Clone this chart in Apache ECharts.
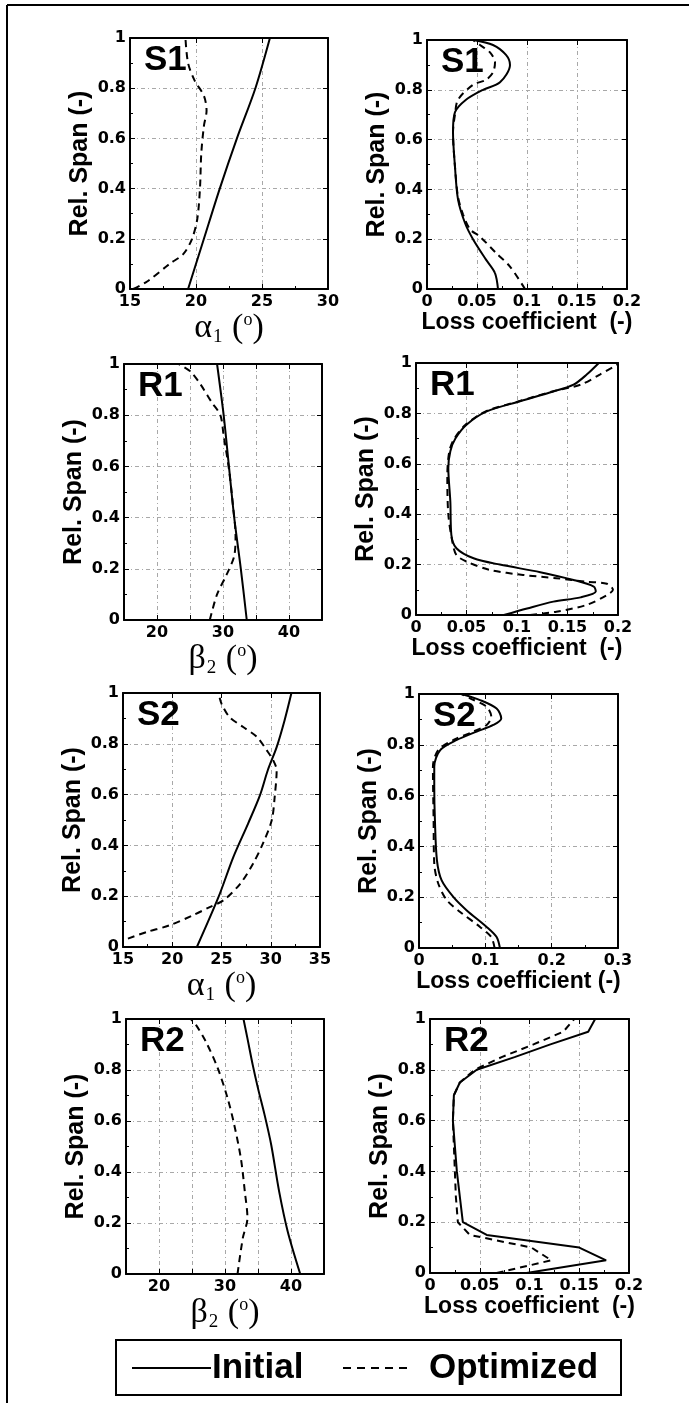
<!DOCTYPE html>
<html>
<head>
<meta charset="utf-8">
<title>Spanwise distributions</title>
<script src="https://cdn.jsdelivr.net/npm/echarts@6/dist/echarts.min.js"></script>
<style>
  html, body { margin: 0; padding: 0; background: #fff; }
  #chart { width: 689px; height: 1403px; }
</style>
</head>
<body>
<div id="chart"></div>
<script>
// every point is [value, relative span]
const s1AlphaInitial = [[19.4, 0], [20.6, 0.2], [21.8, 0.4], [23.1, 0.6], [24.5, 0.8], [25.6, 1]];
const s1AlphaOptimized = [[15.25, 0], [16.3, 0.03], [18.0, 0.1], [19.05, 0.14], [19.7, 0.2], [20.1, 0.28], [20.3, 0.4], [20.4, 0.54], [20.6, 0.65], [20.8, 0.71], [20.6, 0.77], [19.9, 0.83], [19.4, 0.9], [19.2, 1]];

const s1LossInitial = [[0.071, 0], [0.068, 0.064], [0.059, 0.118], [0.046, 0.2], [0.038, 0.265], [0.031, 0.36], [0.028, 0.49], [0.026, 0.63], [0.028, 0.71], [0.039, 0.76], [0.056, 0.8], [0.073, 0.83], [0.083, 0.9], [0.079, 0.94], [0.066, 0.98], [0.046, 1]];
const s1LossOptimized = [[0.098, 0], [0.083, 0.09], [0.069, 0.145], [0.053, 0.21], [0.043, 0.24], [0.036, 0.3], [0.031, 0.37], [0.028, 0.49], [0.026, 0.63], [0.028, 0.7], [0.031, 0.76], [0.046, 0.82], [0.059, 0.84], [0.066, 0.87], [0.068, 0.91], [0.063, 0.95], [0.053, 0.98], [0.046, 1]];

const r1BetaInitial = [[33.6, 0], [32.7, 0.2], [31.7, 0.4], [30.9, 0.6], [30.1, 0.8], [29.1, 1]];
const r1BetaOptimized = [[28.0, 0], [29.1, 0.1], [30.6, 0.18], [31.7, 0.25], [31.9, 0.33], [31.5, 0.45], [30.9, 0.59], [30.1, 0.72], [29.6, 0.8], [28.3, 0.85], [26.6, 0.92], [25.1, 0.97], [23.3, 1]];

const r1LossInitial = [[0.087, 0], [0.110, 0.026], [0.136, 0.053], [0.163, 0.07], [0.178, 0.093], [0.176, 0.113], [0.156, 0.139], [0.123, 0.17], [0.083, 0.2], [0.057, 0.225], [0.040, 0.265], [0.035, 0.318], [0.034, 0.45], [0.032, 0.583], [0.034, 0.65], [0.039, 0.70], [0.050, 0.755], [0.070, 0.808], [0.103, 0.848], [0.136, 0.887], [0.156, 0.914], [0.169, 0.954], [0.181, 1]];
const r1LossOptimized = [[0.113, 0], [0.139, 0.013], [0.169, 0.04], [0.189, 0.079], [0.195, 0.1], [0.189, 0.124], [0.169, 0.132], [0.139, 0.146], [0.106, 0.159], [0.073, 0.179], [0.050, 0.212], [0.040, 0.238], [0.036, 0.291], [0.032, 0.4], [0.031, 0.55], [0.033, 0.65], [0.038, 0.70], [0.049, 0.755], [0.069, 0.808], [0.102, 0.848], [0.135, 0.887], [0.163, 0.914], [0.182, 0.954], [0.2, 0.995]];

const s2AlphaInitial = [[22.5, 0], [24.7, 0.197], [26.2, 0.354], [27.7, 0.486], [28.9, 0.597], [29.7, 0.696], [30.6, 0.787], [31.4, 0.892], [32.1, 1]];
const s2AlphaOptimized = [[15.5, 0.033], [17.4, 0.059], [19.7, 0.085], [22.1, 0.125], [23.8, 0.157], [25.2, 0.184], [26.9, 0.249], [28.2, 0.328], [29.2, 0.407], [30.1, 0.499], [30.4, 0.591], [30.6, 0.696], [30.25, 0.735], [29.6, 0.774], [28.6, 0.827], [27.2, 0.866], [25.8, 0.906], [25.0, 0.958], [24.7, 1]];

const s2LossInitial = [[0.122, 0], [0.117, 0.043], [0.102, 0.083], [0.072, 0.148], [0.052, 0.2], [0.034, 0.267], [0.027, 0.346], [0.024, 0.503], [0.023, 0.635], [0.023, 0.714], [0.032, 0.779], [0.057, 0.819], [0.087, 0.852], [0.112, 0.878], [0.124, 0.904], [0.117, 0.943], [0.092, 0.976], [0.064, 1]];
const s2LossOptimized = [[0.114, 0], [0.109, 0.043], [0.092, 0.083], [0.062, 0.142], [0.042, 0.188], [0.029, 0.254], [0.023, 0.332], [0.022, 0.503], [0.021, 0.714], [0.029, 0.779], [0.052, 0.819], [0.082, 0.852], [0.102, 0.878], [0.109, 0.91], [0.102, 0.95], [0.077, 0.983], [0.064, 1]];

const r2BetaInitial = [[41.4, 0], [39.5, 0.167], [38.2, 0.324], [37.0, 0.507], [36.0, 0.624], [35.0, 0.728], [34.2, 0.82], [33.4, 0.924], [32.8, 1]];
const r2BetaOptimized = [[31.9, 0], [32.7, 0.141], [33.4, 0.219], [33.0, 0.324], [32.4, 0.454], [31.4, 0.585], [30.4, 0.689], [28.9, 0.807], [27.1, 0.911], [25.6, 0.977], [24.8, 1]];

// this panel is piecewise linear in the original
const r2LossInitial = [[0.097, 0], [0.177, 0.05], [0.150, 0.1], [0.057, 0.15], [0.033, 0.2], [0.030, 0.3], [0.027, 0.4], [0.025, 0.5], [0.023, 0.6], [0.024, 0.7], [0.030, 0.75], [0.047, 0.8], [0.085, 0.85], [0.121, 0.9], [0.159, 0.95], [0.166, 1]];
const r2LossOptimized = [[0.067, 0], [0.122, 0.05], [0.102, 0.1], [0.040, 0.15], [0.028, 0.2], [0.026, 0.3], [0.025, 0.4], [0.024, 0.5], [0.023, 0.6], [0.024, 0.7], [0.030, 0.75], [0.045, 0.8], [0.072, 0.85], [0.104, 0.9], [0.134, 0.95], [0.145, 1]];

const betaTickLabels = [20, 30, 40];
const legendNames = ["Initial", "Optimized"];

const SANS = '"Liberation Sans", Arial, sans-serif';
const TICK_FONT = '"DejaVu Sans", sans-serif';

// name of the angle axes, Greek letter with subscript and degree sign
function angleName(letter, sub) {
    return "{g|" + letter + "}{s|" + sub + "}{g| (}{o|o}{g|)}";
}
const angleRich = {
    g: { fontFamily: '"Liberation Serif", serif', fontSize: 34, lineHeight: 36, verticalAlign: "top", color: "#000" },
    s: { fontFamily: '"Liberation Serif", serif', fontSize: 19, verticalAlign: "bottom", lineHeight: 22, padding: [0, 1, 0, 1], color: "#000" },
    o: { fontFamily: '"Liberation Serif", serif', fontSize: 18, verticalAlign: "top", lineHeight: 22, color: "#000" },
};

const panels = [
    { tag: "S1", grid: { left: 130, top: 38, width: 198, height: 251 }, x: { min: 15, max: 30, interval: 5 }, kind: "angle", name: angleName("α", "1"), initial: s1AlphaInitial, optimized: s1AlphaOptimized, smooth: 0.3 },
    { tag: "S1", grid: { left: 427, top: 40, width: 200, height: 249 }, x: { min: 0, max: 0.2, interval: 0.05 }, kind: "loss", name: "Loss coefficient  (-)", initial: s1LossInitial, optimized: s1LossOptimized, smooth: 0.3 },
    { tag: "R1", grid: { left: 124, top: 364, width: 198, height: 256 }, x: { min: 15, max: 45, interval: 5 }, kind: "angle", name: angleName("β", "2"), initial: r1BetaInitial, optimized: r1BetaOptimized, smooth: 0.3, sparse: true },
    { tag: "R1", grid: { left: 416, top: 363, width: 202, height: 252 }, x: { min: 0, max: 0.2, interval: 0.05 }, kind: "loss", name: "Loss coefficient  (-)", initial: r1LossInitial, optimized: r1LossOptimized, smooth: 0.3 },
    { tag: "S2", grid: { left: 123, top: 693, width: 197, height: 254 }, x: { min: 15, max: 35, interval: 5 }, kind: "angle", name: angleName("α", "1"), initial: s2AlphaInitial, optimized: s2AlphaOptimized, smooth: 0.3 },
    { tag: "S2", grid: { left: 419, top: 694, width: 199, height: 254 }, x: { min: 0, max: 0.3, interval: 0.1 }, kind: "loss", name: "Loss coefficient (-)", initial: s2LossInitial, optimized: s2LossOptimized, smooth: 0.3 },
    { tag: "R2", grid: { left: 126, top: 1019, width: 198, height: 255 }, x: { min: 15, max: 45, interval: 5 }, kind: "angle", name: angleName("β", "2"), initial: r2BetaInitial, optimized: r2BetaOptimized, smooth: 0.3, sparse: true },
    { tag: "R2", grid: { left: 430, top: 1019, width: 199, height: 254 }, x: { min: 0, max: 0.2, interval: 0.05 }, kind: "loss", name: "Loss coefficient  (-)", initial: r2LossInitial, optimized: r2LossOptimized, smooth: false },
];

const gridLine = { show: true, lineStyle: { color: "#a8a8a8", width: 1, type: [4, 3, 1, 3] } };
const frameLine = { show: true, onZero: false, lineStyle: { color: "#000", width: 2 } };

const grids = [];
const xAxes = [];
const yAxes = [];
const series = [];
const graphics = [];

panels.forEach(function (p, i) {
    grids.push(Object.assign({ outerBoundsMode: "none", containLabel: false }, p.grid));

    xAxes.push({
        type: "value",
        gridIndex: i,
        min: p.x.min,
        max: p.x.max,
        interval: p.x.interval,
        name: p.name,
        nameLocation: "middle",
        nameGap: p.kind === "loss" ? 21 : 19,
        nameTextStyle: p.kind === "loss"
            ? { fontFamily: SANS, fontWeight: "bold", fontSize: 23, color: "#000", verticalAlign: "top" }
            : { rich: angleRich, verticalAlign: "top" },
        axisLine: frameLine,
        axisTick: { show: true, inside: true, length: 5, lineStyle: { color: "#000", width: 1 } },
        minorTick: { show: !p.sparse, splitNumber: 2, length: 3, lineStyle: { color: "#000" } },
        axisLabel: {
            margin: 5,
            fontFamily: TICK_FONT,
            fontWeight: "bold",
            fontSize: 16,
            color: "#000",
            formatter: p.sparse ? function (v) { return betaTickLabels.indexOf(v) >= 0 ? String(v) : ""; } : null,
        },
        splitLine: gridLine,
    });
    // mirrored top axis for the frame and ticks
    xAxes.push({
        type: "value",
        gridIndex: i,
        position: "top",
        min: p.x.min,
        max: p.x.max,
        interval: p.x.interval,
        axisLine: frameLine,
        axisTick: { show: true, inside: true, length: 5, lineStyle: { color: "#000" } },
        axisLabel: { show: false },
        splitLine: { show: false },
    });

    yAxes.push({
        type: "value",
        gridIndex: i,
        min: 0,
        max: 1,
        interval: 0.2,
        name: "Rel. Span (-)",
        nameLocation: "middle",
        nameGap: 37,
        nameTextStyle: { fontFamily: SANS, fontWeight: "bold", fontSize: 25, color: "#000" },
        axisLine: frameLine,
        axisTick: { show: true, inside: true, length: 5, lineStyle: { color: "#000" } },
        minorTick: { show: true, splitNumber: 2, length: 3, lineStyle: { color: "#000" } },
        axisLabel: { margin: 4, fontFamily: TICK_FONT, fontWeight: "bold", fontSize: 16, color: "#000" },
        splitLine: gridLine,
    });
    yAxes.push({
        type: "value",
        gridIndex: i,
        position: "right",
        min: 0,
        max: 1,
        interval: 0.2,
        axisLine: frameLine,
        axisTick: { show: true, inside: true, length: 5, lineStyle: { color: "#000" } },
        axisLabel: { show: false },
        splitLine: { show: false },
    });

    series.push({
        name: legendNames[0],
        type: "line",
        xAxisIndex: 2 * i,
        yAxisIndex: 2 * i,
        data: p.initial,
        symbol: "none",
        smooth: p.smooth,
        lineStyle: { color: "#000", width: 2 },
        z: 3,
    });
    series.push({
        name: legendNames[1],
        type: "line",
        xAxisIndex: 2 * i,
        yAxisIndex: 2 * i,
        data: p.optimized,
        symbol: "none",
        smooth: p.smooth,
        lineStyle: { color: "#000", width: 2, type: [7, 5] },
        z: 3,
    });

    graphics.push({
        type: "text",
        x: p.grid.left + 14,
        y: p.grid.top + 5,
        z: 10,
        style: { text: p.tag, font: "bold 35px " + SANS, fill: "#000", verticalAlign: "top" },
    });
});

// page frame (top and left edges only, like the scan)
graphics.push({ type: "line", shape: { x1: 7, y1: 5, x2: 689, y2: 5 }, style: { stroke: "#000", lineWidth: 2 } });
graphics.push({ type: "line", shape: { x1: 7, y1: 5, x2: 7, y2: 1403 }, style: { stroke: "#000", lineWidth: 2 } });

// legend box
graphics.push({ type: "rect", shape: { x: 116, y: 1340, width: 505, height: 55 }, style: { fill: "#fff", stroke: "#000", lineWidth: 2 } });
graphics.push({ type: "line", shape: { x1: 132, y1: 1368, x2: 211, y2: 1368 }, style: { stroke: "#000", lineWidth: 2 } });
graphics.push({ type: "text", x: 212, y: 1368, style: { text: legendNames[0], font: "bold 35px " + SANS, fill: "#000", verticalAlign: "middle" } });
graphics.push({ type: "line", shape: { x1: 343, y1: 1368, x2: 412, y2: 1368 }, style: { stroke: "#000", lineWidth: 2, lineDash: [8, 6] } });
graphics.push({ type: "text", x: 429, y: 1368, style: { text: legendNames[1], font: "bold 35px " + SANS, fill: "#000", verticalAlign: "middle" } });

const option = {
    backgroundColor: "#fff",
    animation: false,
    grid: grids,
    xAxis: xAxes,
    yAxis: yAxes,
    series: series,
    graphic: graphics,
};

const chart = echarts.init(document.getElementById("chart"));
chart.setOption(option);
</script>
</body>
</html>
